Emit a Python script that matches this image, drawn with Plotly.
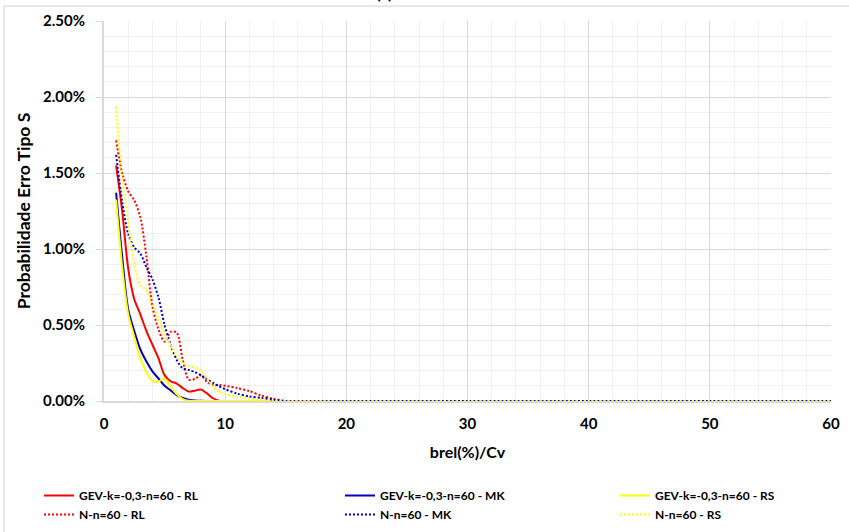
import plotly.graph_objects as go

# ---- data ----
x_vals = [1, 1.5, 2, 2.5, 3, 3.5, 4, 4.5, 5, 5.5, 6, 6.5, 7, 7.5, 8, 8.5, 9, 9.5, 10,
          11, 12, 13, 14, 15, 20, 30, 40, 50, 60]

gev_rl = [1.55, 1.25, 0.87, 0.67, 0.57, 0.46, 0.37, 0.28, 0.17, 0.13, 0.115, 0.085, 0.062, 0.068, 0.076, 0.05, 0.018, 0.002, 0,
          0, 0, 0, 0, 0, 0, 0, 0, 0, 0]
gev_mk = [1.37, 0.95, 0.60, 0.46, 0.34, 0.26, 0.195, 0.148, 0.10, 0.07, 0.039, 0.02, 0.008, 0.003, 0.001, 0, 0, 0, 0,
          0, 0, 0, 0, 0, 0, 0, 0, 0, 0]
gev_rs = [1.325, 0.88, 0.57, 0.42, 0.28, 0.19, 0.13, 0.128, 0.147, 0.095, 0.045, 0.013, 0.002, 0, 0, 0, 0, 0, 0,
          0, 0, 0, 0, 0, 0, 0, 0, 0, 0]
n_rl = [1.715, 1.50, 1.38, 1.32, 1.21, 0.95, 0.62, 0.47, 0.39, 0.455, 0.45, 0.27, 0.14, 0.145, 0.17, 0.125, 0.105, 0.105, 0.10,
        0.085, 0.065, 0.035, 0.015, 0, 0, 0, 0, 0, 0]
n_mk = [1.62, 1.31, 1.10, 1.01, 0.97, 0.88, 0.80, 0.68, 0.50, 0.37, 0.27, 0.215, 0.204, 0.19, 0.17, 0.143, 0.12, 0.097, 0.078,
        0.048, 0.03, 0.02, 0.008, 0, 0, 0, 0, 0, 0]
n_rs = [1.936, 1.45, 1.17, 0.90, 0.76, 0.73, 0.63, 0.54, 0.44, 0.37, 0.30, 0.25, 0.23, 0.22, 0.20, 0.15, 0.09, 0.06, 0.045,
        0.028, 0.015, 0.008, 0.003, 0, 0, 0, 0, 0, 0]

series_names = ["GEV-k=-0,3-n=60 - RL", "GEV-k=-0,3-n=60 - MK", "GEV-k=-0,3-n=60 - RS",
                "N-n=60 - RL", "N-n=60 - MK", "N-n=60 - RS"]
series_vals = [gev_rl, gev_mk, gev_rs, n_rl, n_mk, n_rs]
colors = ["#ff0000", "#0000c0", "#ffff00", "#ff0000", "#0000c0", "#ffff00"]
dashes = ["solid", "solid", "solid", "2px,2px", "2px,2px", "2px,2px"]
legends = ["legend", "legend2", "legend3", "legend", "legend2", "legend3"]

FONT = "Lato"

fig = go.Figure()
for name, vals, c, d, lg in zip(series_names, series_vals, colors, dashes, legends):
    fig.add_trace(go.Scatter(
        x=x_vals, y=vals, name=name, mode="lines",
        line=dict(color=c, width=2, dash=d, shape="spline", smoothing=0.8),
        legend=lg,
    ))

# pixel -> paper helpers (plot area: x 104..831, y 21..401)
def px2x(px):
    return (px - 104) / 727.0

def py2y(py):
    return (401 - py) / 380.0

legend_common = dict(
    orientation="v", yanchor="top", xanchor="left",
    y=py2y(481), font=dict(family=FONT, size=12, color="#000000", weight=700),
    bgcolor="rgba(0,0,0,0)", tracegroupgap=0, itemwidth=30,
)

fig.update_layout(
    width=849, height=532,
    margin=dict(l=104, r=18, t=21, b=131, autoexpand=False),
    paper_bgcolor="white", plot_bgcolor="white",
    font=dict(family=FONT, color="#000000"),
    showlegend=True,
    legend=dict(x=px2x(39), **legend_common),
    legend2=dict(x=px2x(340), **legend_common),
    legend3=dict(x=px2x(615), **legend_common),
    xaxis=dict(
        range=[0, 60], dtick=10, tick0=0,
        showgrid=True, gridcolor="#d9d9d9", gridwidth=1,
        minor=dict(dtick=2, showgrid=True, gridcolor="#f0f0f0", gridwidth=1),
        showline=True, linecolor="#d9d9d9", linewidth=2,
        zeroline=False, ticks="",
        ticklabelstandoff=8,
        tickfont=dict(family=FONT, size=15, weight=700, color="#000000"),
        title=dict(text="brel(%)/Cv", font=dict(family=FONT, size=16, weight=700, color="#000000"), standoff=16),
    ),
    yaxis=dict(
        range=[0, 2.5], dtick=0.5, tick0=0,
        tickformat=".2f", ticksuffix="%",
        showgrid=True, gridcolor="#d9d9d9", gridwidth=1,
        minor=dict(dtick=0.1, showgrid=True, gridcolor="#f0f0f0", gridwidth=1),
        showline=True, linecolor="#d9d9d9", linewidth=2,
        zeroline=False, ticks="outside", ticklen=6, tickcolor="#d9d9d9", tickwidth=1,
        ticklabelstandoff=8,
        tickfont=dict(family=FONT, size=15, weight=700, color="#000000"),
        title=dict(text="Probabilidade Erro Tipo S", font=dict(family=FONT, size=17.5, weight=700, color="#000000"), standoff=8),
    ),
    shapes=[
        dict(type="line", xref="paper", yref="paper", x0=px2x(4), x1=px2x(849), y0=py2y(6), y1=py2y(6),
             line=dict(color="#d0d0d0", width=1), layer="above"),
        dict(type="line", xref="paper", yref="paper", x0=px2x(4), x1=px2x(4), y0=py2y(6), y1=py2y(532),
             line=dict(color="#d0d0d0", width=1), layer="above"),
    ],
    annotations=[
        dict(text="(c)", xref="paper", yref="paper", x=px2x(384), y=py2y(5), xanchor="center", yanchor="bottom",
             showarrow=False, font=dict(family=FONT, size=17, weight=700, color="#000000")),
    ],
)

fig.write_html("out.html", config={"displayModeBar": False},
               post_script="document.body.style.margin='0px';")
